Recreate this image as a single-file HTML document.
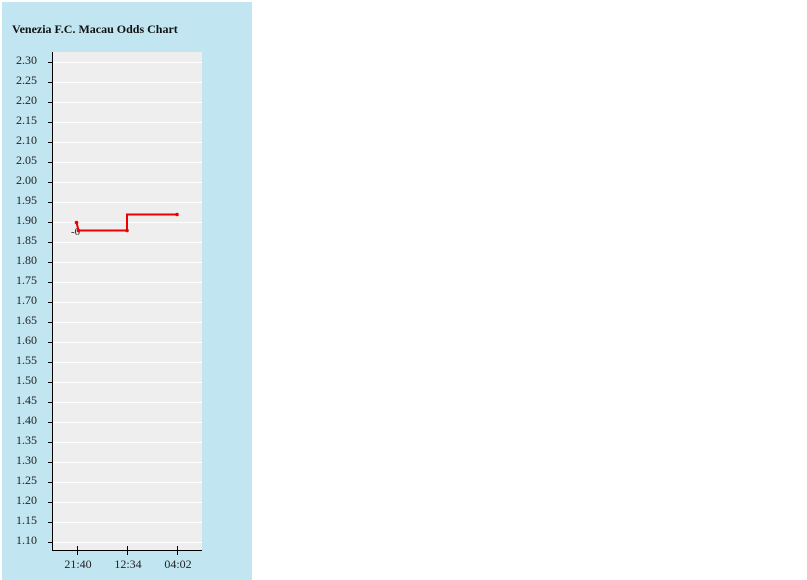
<!DOCTYPE html>
<html><head><meta charset="utf-8"><style>
body{margin:0;background:#fff;width:807px;height:580px;overflow:hidden}
svg{position:absolute;left:0;top:0}
text{font-family:"Liberation Serif",serif;font-size:12px;fill:#222}
</style></head><body>
<svg width="807" height="580">
<rect x="2" y="2" width="250" height="578" fill="#c1e6f1"/>
<text x="12" y="33" style="font-weight:bold;font-size:12px;fill:#111">Venezia F.C. Macau Odds Chart</text>
<rect x="53" y="52" width="149" height="499" fill="#eeeeee"/>
<g stroke="#fff" stroke-width="1">
<line x1="53" x2="202" y1="62.5" y2="62.5"/><line x1="53" x2="202" y1="82.5" y2="82.5"/><line x1="53" x2="202" y1="102.5" y2="102.5"/><line x1="53" x2="202" y1="122.5" y2="122.5"/><line x1="53" x2="202" y1="142.5" y2="142.5"/><line x1="53" x2="202" y1="162.5" y2="162.5"/><line x1="53" x2="202" y1="182.5" y2="182.5"/><line x1="53" x2="202" y1="202.5" y2="202.5"/><line x1="53" x2="202" y1="222.5" y2="222.5"/><line x1="53" x2="202" y1="242.5" y2="242.5"/><line x1="53" x2="202" y1="262.5" y2="262.5"/><line x1="53" x2="202" y1="282.5" y2="282.5"/><line x1="53" x2="202" y1="302.5" y2="302.5"/><line x1="53" x2="202" y1="322.5" y2="322.5"/><line x1="53" x2="202" y1="342.5" y2="342.5"/><line x1="53" x2="202" y1="362.5" y2="362.5"/><line x1="53" x2="202" y1="382.5" y2="382.5"/><line x1="53" x2="202" y1="402.5" y2="402.5"/><line x1="53" x2="202" y1="422.5" y2="422.5"/><line x1="53" x2="202" y1="442.5" y2="442.5"/><line x1="53" x2="202" y1="462.5" y2="462.5"/><line x1="53" x2="202" y1="482.5" y2="482.5"/><line x1="53" x2="202" y1="502.5" y2="502.5"/><line x1="53" x2="202" y1="522.5" y2="522.5"/><line x1="53" x2="202" y1="542.5" y2="542.5"/>
</g>
<g stroke="#000" stroke-width="1">
<line x1="52.5" x2="52.5" y1="52" y2="551"/>
<line x1="52" x2="202" y1="550.5" y2="550.5"/>
<line x1="77.5" x2="77.5" y1="546" y2="555"/><line x1="127.5" x2="127.5" y1="546" y2="555"/><line x1="177.5" x2="177.5" y1="546" y2="555"/>
<path d="M48 62.5h5M48 82.5h5M48 102.5h5M48 122.5h5M48 142.5h5M48 162.5h5M48 182.5h5M48 202.5h5M48 222.5h5M48 242.5h5M48 262.5h5M48 282.5h5M48 302.5h5M48 322.5h5M48 342.5h5M48 362.5h5M48 382.5h5M48 402.5h5M48 422.5h5M48 442.5h5M48 462.5h5M48 482.5h5M48 502.5h5M48 522.5h5M48 542.5h5"/>
</g>
<g text-anchor="start">
<text x="16" y="64">2.30</text><text x="16" y="84">2.25</text><text x="16" y="104">2.20</text><text x="16" y="124">2.15</text><text x="16" y="144">2.10</text><text x="16" y="164">2.05</text><text x="16" y="184">2.00</text><text x="16" y="204">1.95</text><text x="16" y="224">1.90</text><text x="16" y="244">1.85</text><text x="16" y="264">1.80</text><text x="16" y="284">1.75</text><text x="16" y="304">1.70</text><text x="16" y="324">1.65</text><text x="16" y="344">1.60</text><text x="16" y="364">1.55</text><text x="16" y="384">1.50</text><text x="16" y="404">1.45</text><text x="16" y="424">1.40</text><text x="16" y="444">1.35</text><text x="16" y="464">1.30</text><text x="16" y="484">1.25</text><text x="16" y="504">1.20</text><text x="16" y="524">1.15</text><text x="16" y="544">1.10</text>
</g>
<g text-anchor="middle">
<text x="78" y="568">21:40</text><text x="128" y="568">12:34</text><text x="178" y="568">04:02</text>
</g>
<text x="71" y="235" style="font-size:11px">-0</text>
<path d="M76.5 222.5 L78.5 230.5 L127 230.5 L127 214.5 L177 214.5" fill="none" stroke="#e00" stroke-width="2"/>
<g fill="#e00"><circle cx="76.5" cy="222.5" r="1.8"/><circle cx="78.5" cy="230.5" r="1.8"/><circle cx="127" cy="230.5" r="1.8"/><circle cx="177" cy="214.5" r="1.8"/></g>
</svg>
</body></html>
